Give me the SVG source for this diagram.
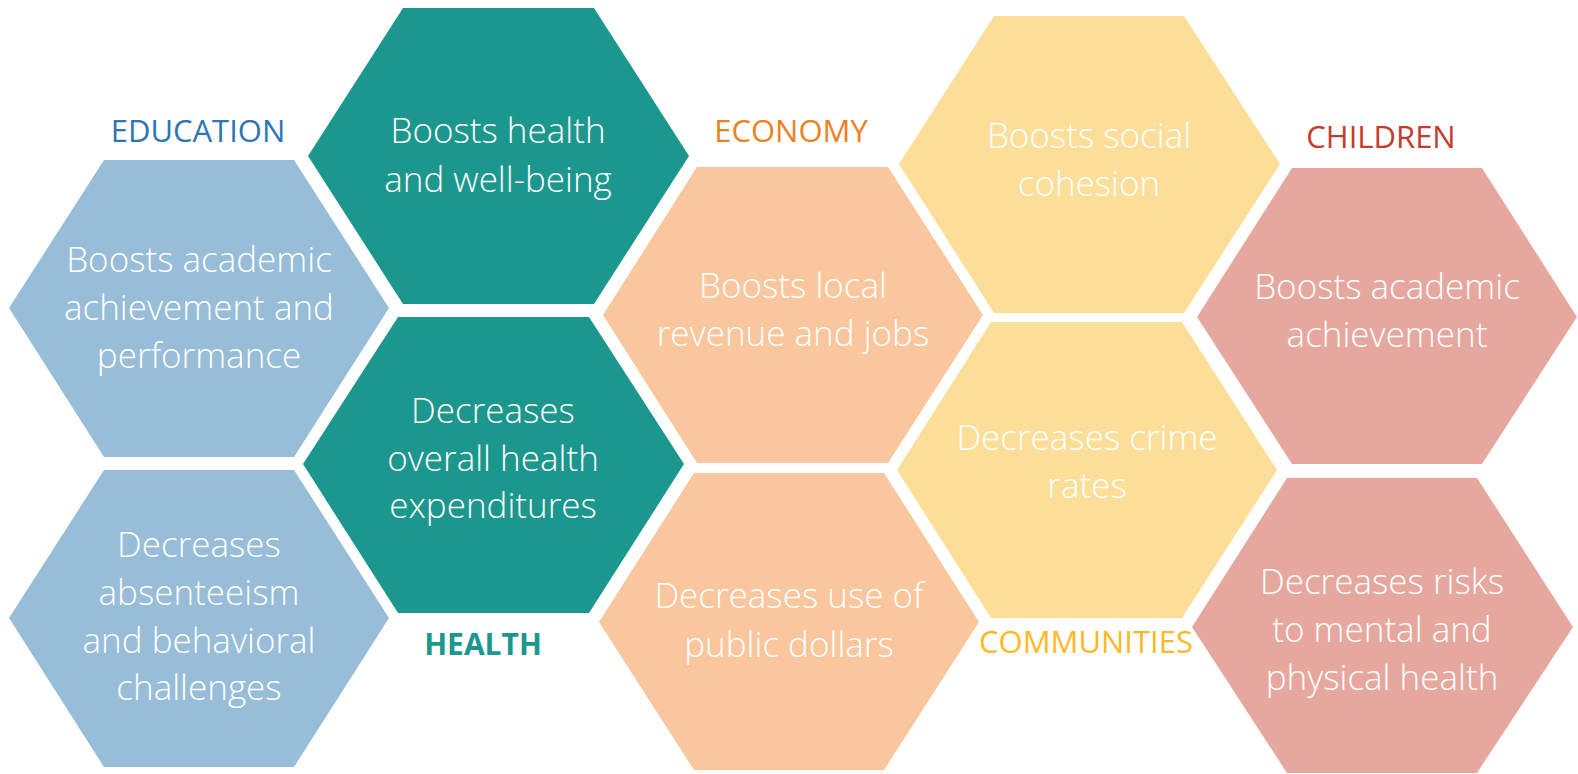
<svg xmlns="http://www.w3.org/2000/svg" width="1578" height="774" viewBox="0 0 1578 774">
<style>
.t{font-family:"Open Sans","Liberation Sans",sans-serif;font-weight:300;font-size:35px;fill:#ffffff;text-anchor:middle}
.lab{font-family:"Open Sans","Liberation Sans",sans-serif;font-weight:400;font-size:31px;text-anchor:middle}
.bold{font-weight:700;font-size:30px}
.edu{fill:#98BDD8}.hl{fill:#1C978D}.eco{fill:#F9C69D}.com{fill:#FCDE99}.chi{fill:#E6A89E}
</style>
<rect width="1578" height="774" fill="#ffffff"/>
<g id="label-education"><text class="lab" x="198" y="142" fill="#2E75B6">EDUCATION</text></g>
<g id="label-economy"><text class="lab" x="791" y="142" fill="#F07F22">ECONOMY</text></g>
<g id="label-children"><text class="lab" x="1381" y="148" fill="#C63C2B">CHILDREN</text></g>
<g id="label-health"><text class="lab bold" x="483" y="655" fill="#1C978D">HEALTH</text></g>
<g id="label-communities"><text class="lab" x="1086" y="653" fill="#FDB924">COMMUNITIES</text></g>

<g id="edu1"><polygon class="edu" points="104,160 294,160 389,308 294,457 104,457 9,308"/>
<text class="t" x="199" y="272">Boosts academic</text><text class="t" x="199" y="320">achievement and</text><text class="t" x="199" y="368">performance</text></g>
<g id="edu2"><polygon class="edu" points="104,470 294,470 389,618 294,767 104,767 9,618"/>
<text class="t" x="199" y="557">Decreases</text><text class="t" x="199" y="605">absenteeism</text><text class="t" x="199" y="653">and behavioral</text><text class="t" x="199" y="700">challenges</text></g>
<g id="health1"><polygon class="hl" points="403,8 594,8 689,156 594,304 403,304 308,156"/>
<text class="t" x="498" y="143">Boosts health</text><text class="t" x="498" y="192">and well-being</text></g>
<g id="health2"><polygon class="hl" points="398,317 589,317 684,464 589,613 398,613 303,464"/>
<text class="t" x="493" y="423">Decreases</text><text class="t" x="493" y="471">overall health</text><text class="t" x="493" y="518">expenditures</text></g>
<g id="eco1"><polygon class="eco" points="697,167 888,167 983,315 888,463 697,463 603,315"/>
<text class="t" x="793" y="298">Boosts local</text><text class="t" x="793" y="346">revenue and jobs</text></g>
<g id="eco2"><polygon class="eco" points="694,473 884,473 979,622 884,770 694,770 599,622"/>
<text class="t" x="789" y="608">Decreases use of</text><text class="t" x="789" y="657">public dollars</text></g>
<g id="com1"><polygon class="com" points="994,16 1184,16 1280,164 1184,313 994,313 899,164"/>
<text class="t" x="1089" y="148">Boosts social</text><text class="t" x="1089" y="196">cohesion</text></g>
<g id="com2"><polygon class="com" points="991,322 1182,322 1277,470 1182,618 991,618 897,470"/>
<text class="t" x="1087" y="450">Decreases crime</text><text class="t" x="1087" y="498">rates</text></g>
<g id="chi1"><polygon class="chi" points="1292,168 1482,168 1577,317 1482,464 1292,464 1197,317"/>
<text class="t" x="1387" y="299">Boosts academic</text><text class="t" x="1387" y="347">achievement</text></g>
<g id="chi2"><polygon class="chi" points="1287,478 1477,478 1573,627 1477,773 1287,773 1192,627"/>
<text class="t" x="1382" y="594">Decreases risks</text><text class="t" x="1382" y="642">to mental and</text><text class="t" x="1382" y="690">physical health</text></g>
<g id="connectors"/>
</svg>
